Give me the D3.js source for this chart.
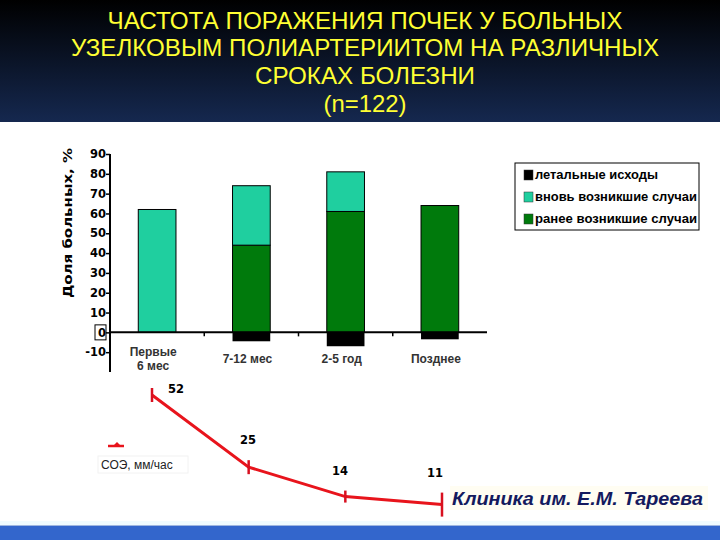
<!DOCTYPE html>
<html><head><meta charset="utf-8">
<script src="https://cdn.jsdelivr.net/npm/d3@7"></script>
<style>html,body{margin:0;padding:0;background:#fff}svg{display:block}</style>
</head><body>
<script>
const titleLines = ["ЧАСТОТА ПОРАЖЕНИЯ ПОЧЕК У БОЛЬНЫХ","УЗЕЛКОВЫМ ПОЛИАРТЕРИИТОМ НА РАЗЛИЧНЫХ","СРОКАХ БОЛЕЗНИ","(n=122)"];
const categories = [["Первые","6 мес"],["7-12 мес"],["2-5 год"],["Позднее"]];
const earlier = [0, 44, 61, 64];      // ранее возникшие случаи
const newCases = [62, 30, 20, 0];     // вновь возникшие случаи
const lethal = [0, -4.5, -7, -3.5];   // летальные исходы
const yTicks = [-10,0,10,20,30,40,50,60,70,80,90];
const esr = [52, 25, 14, 11];
const esrErr = [7, 7, 6, 12];
const legendLabels = ["летальные исходы","вновь возникшие случаи","ранее возникшие случаи"];
const colors = {lethal:"#000000", fresh:"#1fcf9f", earlier:"#007a0c"};

const W=720,H=540;
const svg=d3.select("body").append("svg").attr("width",W).attr("height",H);
const defs=svg.append("defs");
const g1=defs.append("linearGradient").attr("id","hdr").attr("x1",0).attr("y1",0).attr("x2",0).attr("y2",1);
g1.append("stop").attr("offset","0").attr("stop-color","#000000");
g1.append("stop").attr("offset","1").attr("stop-color","#15284f");
svg.append("rect").attr("x",0).attr("y",0).attr("width",W).attr("height",122).attr("fill","url(#hdr)");
svg.append("rect").attr("x",0).attr("y",521).attr("width",W).attr("height",4).attr("fill","#f0fbff");
svg.append("rect").attr("x",0).attr("y",525).attr("width",W).attr("height",1).attr("fill","#9fb6e0");
svg.append("rect").attr("x",0).attr("y",526).attr("width",W).attr("height",14).attr("fill","#3366cc");

const titleY=[29,56,84,112];
const titleW=[515,588,220,83];
svg.append("g").selectAll("text").data(titleLines).join("text")
  .attr("x",365).attr("y",(d,i)=>titleY[i]).attr("text-anchor","middle")
  .attr("font-family","Arial,'Liberation Sans',sans-serif")
  .attr("font-size",24).attr("fill","#ffff33")
  .attr("textLength",(d,i)=>titleW[i]).attr("lengthAdjust","spacingAndGlyphs").text(d=>d);

// bar chart
const x=d3.scaleBand().domain(d3.range(categories.length)).range([110,487]).paddingInner(0.6).paddingOuter(0.3);
const y=d3.scaleLinear().domain([-20,90]).range([372,154]);

const stack=categories.map((c,i)=>({i,e:earlier[i],n:newCases[i],l:lethal[i]}));
const bars=svg.append("g");
stack.forEach(d=>{
  if(d.e>0) bars.append("rect").attr("x",x(d.i)).attr("width",x.bandwidth()).attr("y",y(d.e)).attr("height",y(0)-y(d.e)).attr("fill",colors.earlier).attr("stroke","#000").attr("stroke-width",1);
  if(d.n>0) bars.append("rect").attr("x",x(d.i)).attr("width",x.bandwidth()).attr("y",y(d.e+d.n)).attr("height",y(d.e)-y(d.e+d.n)).attr("fill",colors.fresh).attr("stroke","#000").attr("stroke-width",1);
  if(d.l<0) bars.append("rect").attr("x",x(d.i)).attr("width",x.bandwidth()).attr("y",y(0)).attr("height",y(d.l)-y(0)).attr("fill",colors.lethal);
});

// y axis
const yAx=svg.append("g").attr("transform","translate(110,0)")
  .call(d3.axisLeft(y).tickValues(yTicks).tickSize(4).tickFormat(d=>String(d)));
yAx.select(".domain").attr("stroke","#000").attr("stroke-width",2).attr("d","M0,154V372");
yAx.selectAll(".tick line").attr("stroke","#000").attr("stroke-width",1.5);
yAx.selectAll("text").attr("font-family","'DejaVu Sans',Verdana,sans-serif").attr("font-weight","bold").attr("font-size",11.5).attr("fill","#000").attr("x",-4);
yAx.selectAll(".tick").filter(d=>d===0).insert("rect","text").attr("x",-15).attr("y",-8).attr("width",11).attr("height",15).attr("fill","#fff").attr("stroke","#000").attr("stroke-width",1);

// x axis at zero
const xAx=svg.append("g").attr("transform",`translate(0,${y(0)})`);
xAx.append("line").attr("x1",110).attr("x2",487).attr("stroke","#000").attr("stroke-width",2);
const step=x.step();
d3.range(1,categories.length).forEach(k=>{
  const bx=110+x.paddingOuter()*step+k*step-x.paddingInner()*step/2;
  xAx.append("line").attr("x1",bx).attr("x2",bx).attr("y1",0).attr("y2",4).attr("stroke","#000").attr("stroke-width",1.5);
});
categories.forEach((c,i)=>{
  const cx=x(i)+x.bandwidth()/2;
  const t=svg.append("text").attr("text-anchor","middle").attr("font-family","Arial,'Liberation Sans',sans-serif").attr("font-weight","bold").attr("font-size",12).attr("fill","#333");
  c.forEach((ln,j)=>t.append("tspan").attr("x",cx-4).attr("y",(c.length>1?356:363)+j*14).text(ln));
});

svg.append("text").attr("transform","translate(72,223) rotate(-90)").attr("text-anchor","middle")
  .attr("font-family","'DejaVu Sans',Verdana,sans-serif").attr("font-weight","bold").attr("font-size",12.5).attr("fill","#000")
  .attr("textLength",150).attr("lengthAdjust","spacingAndGlyphs").text("Доля больных, %");

// legend
svg.append("rect").attr("x",515).attr("y",163).attr("width",184).attr("height",67).attr("fill","#fff").attr("stroke","#000").attr("stroke-width",1);
const legCols=[colors.lethal,colors.fresh,colors.earlier];
legendLabels.forEach((l,i)=>{
  const ly=175+i*22;
  svg.append("rect").attr("x",524).attr("y",ly-5).attr("width",9).attr("height",10).attr("fill",legCols[i]).attr("stroke","#333").attr("stroke-width",0.5);
  svg.append("text").attr("x",535).attr("y",ly+4).attr("font-family","Arial,'Liberation Sans',sans-serif").attr("font-weight","bold").attr("font-size",13).attr("fill","#000")
    .attr("textLength",i===0?123:162).attr("lengthAdjust","spacingAndGlyphs").text(l);
});

// ESR line
const ex=d3.scalePoint().domain(d3.range(esr.length)).range([152,442]);
const ey=d3.scaleLinear().domain([0,52]).range([534,395]);
const lineGen=d3.line().x((d,i)=>ex(i)).y(d=>ey(d));
svg.append("path").datum(esr).attr("d",lineGen).attr("fill","none").attr("stroke","#e8141c").attr("stroke-width",3);
esr.forEach((v,i)=>{
  svg.append("line").attr("x1",ex(i)).attr("x2",ex(i)).attr("y1",ey(v)-esrErr[i]).attr("y2",ey(v)+esrErr[i]).attr("stroke","#d81020").attr("stroke-width",2.5);
});
const lblPos=[[176,393],[248,444],[340,475],[435,477]];
esr.forEach((v,i)=>{
  svg.append("text").attr("x",lblPos[i][0]).attr("y",lblPos[i][1]).attr("text-anchor","middle").attr("font-family","'DejaVu Sans',Verdana,sans-serif").attr("font-weight","bold").attr("font-size",11.5).attr("fill","#000").text(v);
});
// ESR legend
svg.append("line").attr("x1",108).attr("x2",124).attr("y1",446).attr("y2",446).attr("stroke","#e8141c").attr("stroke-width",2.5);
svg.append("path").attr("d","M113,446L117,442L121,446Z").attr("fill","#e8141c");
svg.append("rect").attr("x",98).attr("y",456).attr("width",90).attr("height",17).attr("fill","#fff").attr("stroke","#f2f2f2");
svg.append("text").attr("x",101).attr("y",469).attr("font-family","Arial,'Liberation Sans',sans-serif").attr("font-size",12).attr("fill","#222").text("СОЭ, мм/час");

svg.append("rect").attr("x",450).attr("y",486).attr("width",258).attr("height",24).attr("fill","#fffdf2");
svg.append("text").attr("x",452).attr("y",505).attr("font-family","Arial,'Liberation Sans',sans-serif").attr("font-weight","bold").attr("font-style","italic").attr("font-size",19).attr("fill","#141a5e")
  .attr("textLength",251).attr("lengthAdjust","spacingAndGlyphs").text("Клиника им. Е.М. Тареева");
</script>
</body></html>
